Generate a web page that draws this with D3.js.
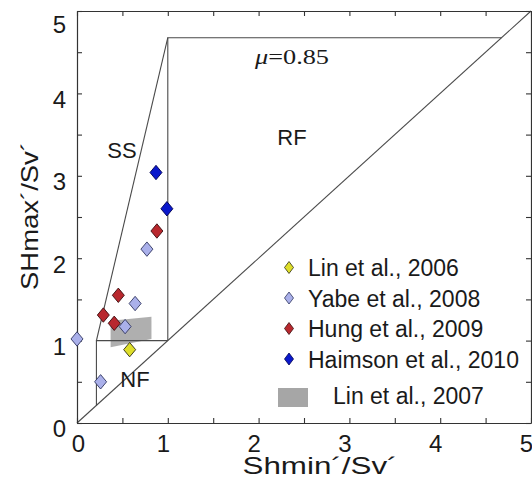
<!DOCTYPE html>
<html>
<head>
<meta charset="utf-8">
<script src="https://cdn.jsdelivr.net/npm/d3@7"></script>
<style>
  html, body { margin: 0; padding: 0; background: #fff; }
  svg { display: block; }
  text { font-family: "Liberation Sans", Arial, Helvetica, sans-serif; fill: #1a1a1a; }
</style>
</head>
<body>
<svg id="chart" width="532" height="489"></svg>
<script>
// Friction coefficient bounding the stress polygon
const mu = 0.85;

// Measurements: [Shmin'/Sv', SHmax'/Sv']
const lin2006 = [[0.58, 0.89]];
const yabe2008 = [[0.77, 2.11], [0.64, 1.45], [0.53, 1.17], [0.0, 1.02], [0.26, 0.50]];
const hung2009 = [[0.88, 2.33], [0.455, 1.55], [0.29, 1.31], [0.41, 1.21]];
const haimson2010 = [[0.87, 3.04], [0.99, 2.60]];

// Range reported by Lin et al. (2007), drawn as a shaded area
const lin2007 = [[0.37, 0.92], [0.37, 1.24], [0.82, 1.29], [0.82, 1.02]];

const xTicks = [0, 0.5, 1, 1.5, 2, 2.5, 3, 3.5, 4, 4.5, 5];
const yTicks = [0, 0.5, 1, 1.5, 2, 2.5, 3, 3.5, 4, 4.5, 5];
const tickLabels = [0, 1, 2, 3, 4, 5];

const seriesNames = ["Lin et al., 2006", "Yabe et al., 2008", "Hung et al., 2009", "Haimson et al., 2010"];
const seriesFill = ["#dede2a", "#aab0ea", "#b8282e", "#0a18cc"];
const seriesStroke = ["#2e2e10", "#303660", "#3a0c0e", "#000050"];
const areaName = "Lin et al., 2007";
const regionLabels = ["SS", "RF", "NF"];
</script>
<script>
const svg = d3.select("#chart");
const plotLeft = 77, plotRight = 531, plotTop = 11, plotBottom = 423;

const x = d3.scaleLinear().domain([0, 5]).range([plotLeft, plotRight]);
const y = d3.scaleLinear().domain([0, 5]).range([plotBottom, plotTop]);

// Frictional limit ratio for the given mu
const k = Math.pow(Math.sqrt(1 + mu * mu) + mu, 2);

// Shaded Lin et al. (2007) range
svg.append("path")
  .attr("d", d3.line().x(d => x(d[0])).y(d => y(d[1]))(lin2007) + "Z")
  .attr("fill", "#a6a6a6")
  .attr("opacity", 0.9);

// Stress polygon lines
const line = d3.line().x(d => x(d[0])).y(d => y(d[1]));
const polyLines = [
  [[0, 0], [5, 5]],
  [[1 / k, 1 / k], [1 / k, 1], [1, 1]],
  [[1 / k, 1], [1, k]],
  [[1, 1], [1, k], [k, k]]
];
svg.append("g").selectAll("path").data(polyLines).join("path")
  .attr("d", line)
  .attr("fill", "none")
  .attr("stroke", "#4a4a4a")
  .attr("stroke-width", 1.1);

// Axes with inward ticks
const axisColor = "#333";
function styleAxis(g) {
  g.select(".domain").attr("stroke", axisColor).attr("stroke-width", 1.2);
  g.selectAll(".tick line").attr("stroke", axisColor).attr("stroke-width", 1.1);
  g.selectAll(".tick text")
    .attr("fill", "#1a1a1a")
    .style("font-family", '"Liberation Sans", Arial, sans-serif')
    .style("font-size", "24px");
}
const fmt = d => tickLabels.includes(d) ? String(d) : "";

svg.append("g").attr("transform", `translate(0,${plotBottom})`)
  .call(d3.axisBottom(x).tickValues(xTicks).tickFormat(fmt).tickSizeInner(-5).tickSizeOuter(0).tickPadding(12))
  .call(styleAxis)
  .call(g => g.selectAll(".tick text").attr("dx", d => d === 0 ? 1 : -5));

svg.append("g").attr("transform", `translate(${plotLeft},0)`)
  .call(d3.axisLeft(y).tickValues(yTicks).tickFormat(fmt).tickSizeInner(-5).tickSizeOuter(0).tickPadding(11))
  .call(styleAxis)
  .call(g => g.selectAll(".tick text").attr("dy", d => d === 5 ? "0.9em" : "0.58em"));

svg.append("g").attr("transform", `translate(0,${plotTop})`)
  .call(d3.axisTop(x).tickValues(xTicks).tickFormat("").tickSizeInner(-5).tickSizeOuter(0))
  .call(styleAxis);

svg.append("g").attr("transform", `translate(${plotRight},0)`)
  .call(d3.axisRight(y).tickValues(yTicks).tickFormat("").tickSizeInner(-5).tickSizeOuter(0))
  .call(styleAxis);

// Axis titles
svg.append("text")
  .attr("x", 320).attr("y", 474)
  .attr("text-anchor", "middle")
  .attr("font-size", 24)
  .attr("textLength", 155).attr("lengthAdjust", "spacingAndGlyphs")
  .text("Shmin´/Sv´");

svg.append("text")
  .attr("transform", "translate(38,216) rotate(-90)")
  .attr("text-anchor", "middle")
  .attr("font-size", 24)
  .attr("textLength", 148).attr("lengthAdjust", "spacingAndGlyphs")
  .text("SHmax´/Sv´");

// Regime labels
const regionPos = [[122, 158], [292, 145], [135, 387]];
svg.append("g").selectAll("text").data(regionLabels).join("text")
  .attr("x", (d, i) => regionPos[i][0])
  .attr("y", (d, i) => regionPos[i][1])
  .attr("text-anchor", "middle")
  .attr("font-size", 22)
  .text(d => d);

// Friction coefficient label
const muText = svg.append("text")
  .attr("x", 255).attr("y", 64)
  .attr("font-size", 21)
  .attr("textLength", 74).attr("lengthAdjust", "spacingAndGlyphs")
  .style("font-family", '"Liberation Serif", "Times New Roman", serif');
muText.append("tspan").attr("font-style", "italic").text("μ");
muText.append("tspan").text("=" + mu.toFixed(2));

// Diamond marker
function diamond(cx, cy, hw, hh) {
  return `M${cx},${cy - hh}L${cx + hw},${cy}L${cx},${cy + hh}L${cx - hw},${cy}Z`;
}

// Data points
const allSeries = [lin2006, yabe2008, hung2009, haimson2010];
allSeries.forEach((pts, i) => {
  svg.append("g").selectAll("path").data(pts).join("path")
    .attr("d", d => diamond(x(d[0]), y(d[1]), 6, 7.2))
    .attr("fill", seriesFill[i])
    .attr("stroke", seriesStroke[i])
    .attr("stroke-width", 0.9);
});

// Legend
const legend = svg.append("g");
const rowBase = [276, 306.5, 337, 367.5];
seriesNames.forEach((name, i) => {
  legend.append("path")
    .attr("d", diamond(289, rowBase[i] - 8.5, 4.5, 6))
    .attr("fill", seriesFill[i])
    .attr("stroke", seriesStroke[i])
    .attr("stroke-width", 0.8);
  legend.append("text")
    .attr("x", 308).attr("y", rowBase[i])
    .attr("font-size", 23)
    .text(name);
});
legend.append("rect")
  .attr("x", 278).attr("y", 388).attr("width", 30).attr("height", 19)
  .attr("fill", "#a6a6a6");
legend.append("text")
  .attr("x", 333).attr("y", 404)
  .attr("font-size", 23)
  .text(areaName);
</script>
</body>
</html>
